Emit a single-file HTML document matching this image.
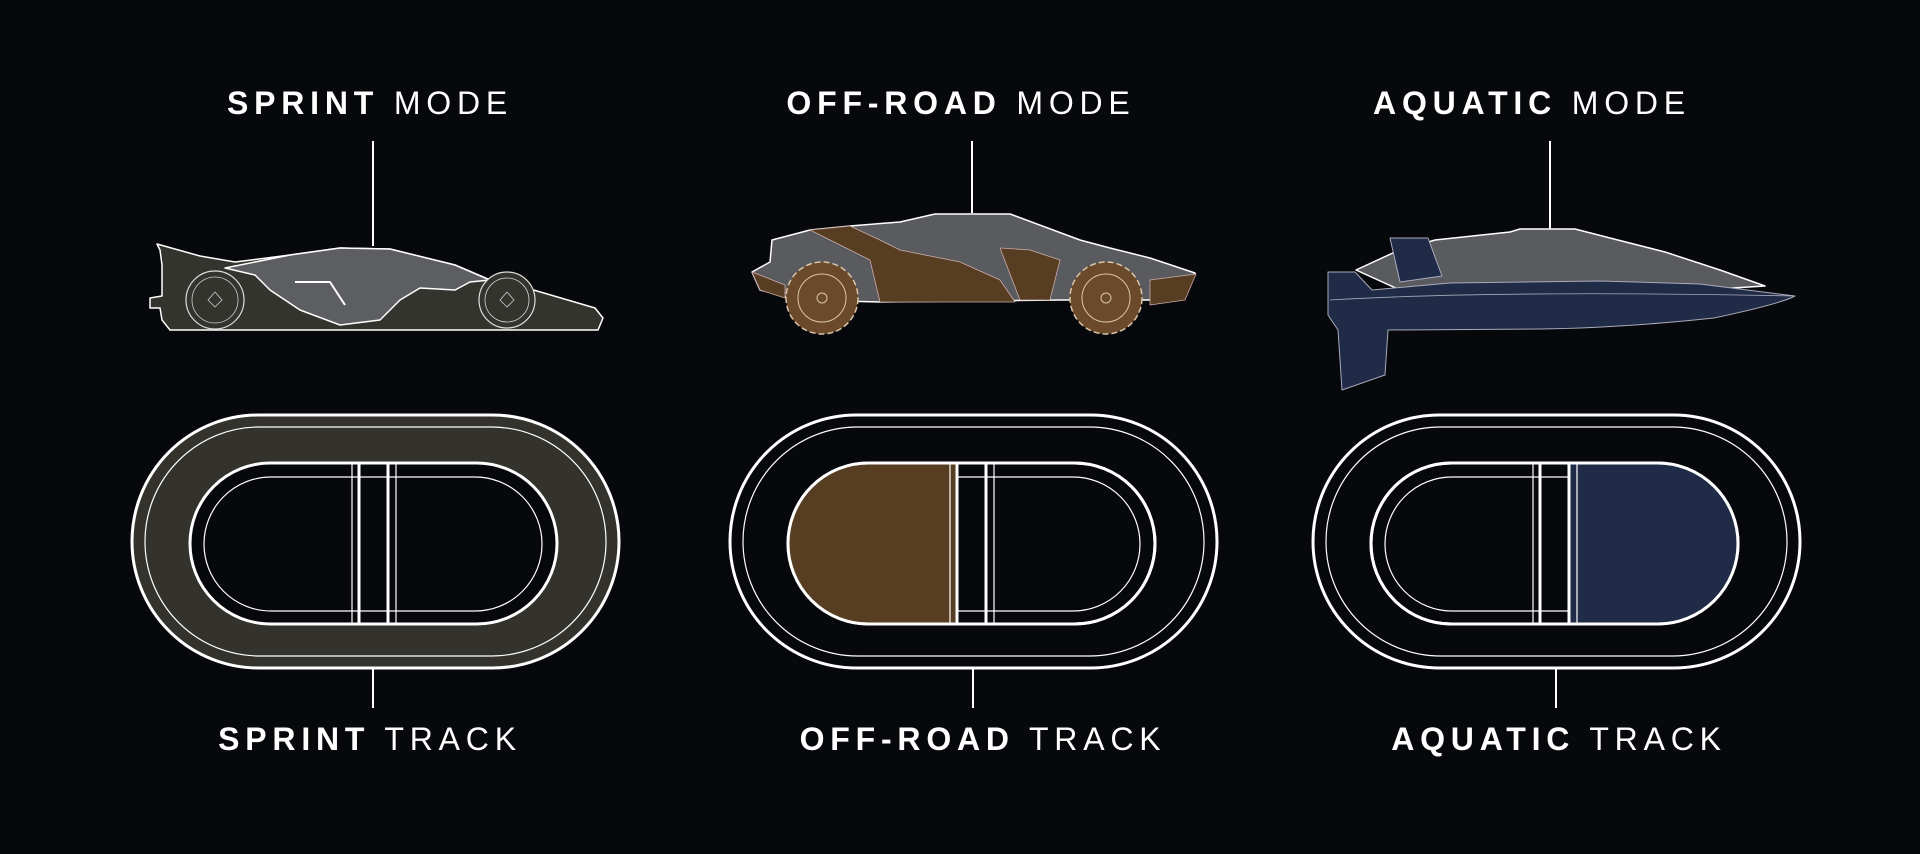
<!DOCTYPE html>
<html><head><meta charset="utf-8"><style>
html,body{margin:0;padding:0;background:#07080b;}
body{width:1920px;height:854px;overflow:hidden;position:relative;font-family:"Liberation Sans",sans-serif;}
.t{position:absolute;width:700px;text-align:center;color:#fff;font-size:32px;letter-spacing:5.8px;line-height:1;}
.t b{font-weight:700;}
svg{position:absolute;left:0;top:0;}
</style></head><body>
<svg width="1920" height="854" viewBox="0 0 1920 854" xmlns="http://www.w3.org/2000/svg">
<defs>
<g id="track">
  <rect x="132" y="415" width="487" height="253" rx="126.5" fill="none" stroke="#fff" stroke-width="3"/>
  <rect x="145" y="427" width="461" height="229" rx="114.5" fill="none" stroke="#fff" stroke-width="1.2"/>
  <rect x="190" y="463" width="367" height="161" rx="80.5" fill="#07080b" stroke="#fff" stroke-width="3"/>
  <rect x="204" y="477" width="338" height="134" rx="67" fill="none" stroke="#fff" stroke-width="1.2"/>
</g>
<g id="bars">
  <line x1="352" y1="463" x2="352" y2="624" stroke="#fff" stroke-width="1.2"/>
  <line x1="359" y1="463" x2="359" y2="624" stroke="#fff" stroke-width="3"/>
  <line x1="388" y1="463" x2="388" y2="624" stroke="#fff" stroke-width="3"/>
  <line x1="396" y1="463" x2="396" y2="624" stroke="#fff" stroke-width="1.2"/>
</g>
<clipPath id="innerc"><rect x="190" y="463" width="367" height="161" rx="80.5"/></clipPath>
</defs>

<rect x="132" y="415" width="487" height="253" rx="126.5" fill="#33322c"/>
<use href="#track"/>
<use href="#bars"/>
<line x1="373" y1="669" x2="373" y2="708" stroke="#fff" stroke-width="2"/>

<g transform="translate(598,0)">
  <use href="#track"/>
  <rect x="190" y="463" width="169" height="161" fill="#573d22" clip-path="url(#innerc)"/>
  <rect x="190" y="463" width="367" height="161" rx="80.5" fill="none" stroke="#fff" stroke-width="3"/>
  <use href="#bars"/>
  <line x1="375" y1="669" x2="375" y2="708" stroke="#fff" stroke-width="2"/>
</g>

<g transform="translate(1181,0)">
  <use href="#track"/>
  <rect x="388" y="463" width="169" height="161" fill="#1f2b47" clip-path="url(#innerc)"/>
  <rect x="190" y="463" width="367" height="161" rx="80.5" fill="none" stroke="#fff" stroke-width="3"/>
  <use href="#bars"/>
  <line x1="375" y1="669" x2="375" y2="708" stroke="#fff" stroke-width="2"/>
</g>

<line x1="373" y1="141" x2="373" y2="246" stroke="#fff" stroke-width="2"/>
<line x1="972" y1="141" x2="972" y2="213" stroke="#fff" stroke-width="2"/>
<line x1="1550" y1="141" x2="1550" y2="230" stroke="#fff" stroke-width="2"/>

<g stroke="#fff" stroke-width="1.5" stroke-linejoin="round">
  <path d="M157,244 L200,256 L235,262 L290,255 L340,248 L390,249 L455,265 L490,280 L520,286 L595,308 L603,318 L598,330 L300,330 L170,330 L162,320 L160,308 L150,308 L150,298 L162,296 L162,265 L160,250 Z" fill="#34342e"/>
  <path d="M225,268 L290,255 L340,248 L390,249 L455,265 L490,280 L470,282 L455,290 L420,288 L400,300 L380,320 L340,325 L300,310 L270,290 L255,275 Z" fill="#5d5e61"/>
  <circle cx="215" cy="300" r="29" fill="#34342e" stroke="#ddd" stroke-width="1.2"/>
  <circle cx="215" cy="300" r="23" fill="none" stroke="#ccc" stroke-width="0.8"/>
  <circle cx="507" cy="300" r="28" fill="#34342e" stroke="#ddd" stroke-width="1.2"/>
  <circle cx="507" cy="300" r="22" fill="none" stroke="#ccc" stroke-width="0.8"/>
  <path d="M208,300 L215,292 L222,300 L215,307Z M500,300 L507,292 L514,300 L507,307Z" fill="none" stroke="#ccc" stroke-width="0.8"/>
  <path d="M295,282 L330,282 L345,305" fill="none" stroke-width="2"/>
</g>

<g stroke="#fff" stroke-width="1.5" stroke-linejoin="round">
  <path d="M772,240 L810,230 L850,226 L900,222 L935,214 L1010,214 L1080,240 L1110,248 L1150,258 L1195,273 L1180,290 L1150,300 L1060,300 L880,302 L800,300 L760,290 L752,272 L770,262 Z" fill="#5a5b5f"/>
  <path d="M810,230 L850,226 L880,240 L900,250 L960,262 L1000,280 L1015,302 L880,302 L870,260 L840,245 Z" fill="#573d22" stroke="#caa" stroke-width="0.8"/>
  <path d="M1000,248 L1030,250 L1060,260 L1050,300 L1020,300 Z" fill="#573d22" stroke="#caa" stroke-width="0.8"/>
  <path d="M752,272 L785,285 L785,298 L760,290 Z M1150,280 L1196,274 L1185,300 L1150,305 Z" fill="#573d22" stroke="#caa" stroke-width="0.8"/>
  <circle cx="822" cy="298" r="36" fill="#6b4a2c" stroke="#d8c4a8" stroke-width="1.5" stroke-dasharray="6 3"/>
  <circle cx="822" cy="298" r="24" fill="none" stroke="#d8c4a8" stroke-width="1"/>
  <circle cx="822" cy="298" r="5" fill="none" stroke="#d8c4a8" stroke-width="1"/>
  <circle cx="1106" cy="298" r="36" fill="#6b4a2c" stroke="#d8c4a8" stroke-width="1.5" stroke-dasharray="6 3"/>
  <circle cx="1106" cy="298" r="24" fill="none" stroke="#d8c4a8" stroke-width="1"/>
  <circle cx="1106" cy="298" r="5" fill="none" stroke="#d8c4a8" stroke-width="1"/>
</g>

<g stroke="#fff" stroke-width="1.5" stroke-linejoin="round">
  <path d="M1356,270 L1395,252 L1435,240 L1510,232 L1520,229 L1575,229 L1610,238 L1665,252 L1720,270 L1765,286 L1700,290 L1400,290 Z" fill="#5a5b5f"/>
  <path d="M1328,272 L1355,272 L1372,290 L1450,283 L1600,281 L1700,284 L1795,296 Q1780,304 1714,318 Q1620,328 1540,329 L1388,330 L1385,375 L1342,390 L1338,330 L1328,315 Z" fill="#1f2b47" stroke="#aab" stroke-width="1"/>
  <path d="M1390,238 L1428,238 L1442,276 L1400,282 Z" fill="#1f2b47" stroke="#aab" stroke-width="1"/>
  <path d="M1330,300 Q1500,290 1795,296" fill="none" stroke="#aab" stroke-width="0.8"/>
</g>
</svg>

<div class="t" style="left:20px;top:87px;"><b>SPRINT</b> MODE</div>
<div class="t" style="left:611px;top:87px;"><b>OFF-ROAD</b> MODE</div>
<div class="t" style="left:1182px;top:87px;"><b>AQUATIC</b> MODE</div>
<div class="t" style="left:20px;top:723px;"><b>SPRINT</b> TRACK</div>
<div class="t" style="left:633px;top:723px;"><b>OFF-ROAD</b> TRACK</div>
<div class="t" style="left:1209px;top:723px;"><b>AQUATIC</b> TRACK</div>
</body></html>
